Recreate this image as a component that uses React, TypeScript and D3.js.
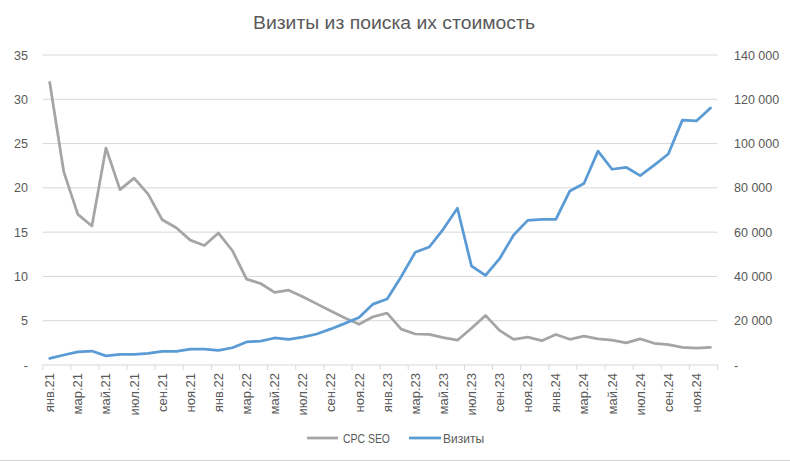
import React from "react";
import * as d3 from "d3";

const months = ["янв", "фев", "мар", "апр", "май", "июн", "июл", "авг", "сен", "окт", "ноя", "дек"];
const years = ["21", "22", "23", "24"];
const categories: string[] = years.flatMap((y) => months.map((m) => `${m}.${y}`));

const cpcSeo: number[] = [
  31.9, 21.8, 17.0, 15.7, 24.5, 19.8, 21.1, 19.3, 16.4, 15.5, 14.1, 13.5,
  14.9, 12.9, 9.7, 9.2, 8.2, 8.45, 7.7, 6.9, 6.1, 5.3, 4.6, 5.45,
  5.85, 4.05, 3.5, 3.45, 3.1, 2.8, 4.15, 5.6, 3.9, 2.9, 3.15, 2.75,
  3.45, 2.9, 3.25, 2.95, 2.8, 2.5, 2.95, 2.45, 2.3, 2.0, 1.9, 2.0,
];

const visits: number[] = [
  3000, 4500, 5900, 6300, 4100, 4800, 4800, 5300, 6200, 6200, 7200, 7200,
  6600, 7800, 10400, 10800, 12200, 11600, 12600, 14000, 16300, 18800, 21500, 27500,
  29800, 39900, 50900, 53300, 61400, 70800, 44700, 40500, 48000, 58700, 65300, 65800,
  65800, 78600, 82000, 96600, 88400, 89300, 85500, 90300, 95300, 110600, 110200, 116100,
];

const leftTicks = [0, 5, 10, 15, 20, 25, 30, 35];
const rightTicks = [0, 20000, 40000, 60000, 80000, 100000, 120000, 140000];

const title = "Визиты из поиска их стоимость";
const seriesNames = ["CPC SEO", "Визиты"];

const W = 790;
const H = 462;
const M = { left: 42.7, right: 717.5, top: 55, bottom: 365 };
const GREY = "#A5A5A5";
const BLUE = "#5B9BD5";
const TEXT = "#595959";
const GRID = "#D9D9D9";
const FONT = "'Liberation Sans', Arial, sans-serif";

const fmtRight = (v: number) => (v === 0 ? "-" : d3.format(",")(v).replace(/,/g, " "));
const fmtLeft = (v: number) => (v === 0 ? "-" : String(v));

export default function App() {
  const x = d3.scaleBand<string>().domain(categories).range([M.left, M.right]).padding(0);
  const yL = d3.scaleLinear().domain([0, 35]).range([M.bottom, M.top]);
  const yR = d3.scaleLinear().domain([0, 140000]).range([M.bottom, M.top]);
  const cx = (c: string) => (x(c) as number) + x.bandwidth() / 2;

  const lineL = d3
    .line<number>()
    .x((_, i) => cx(categories[i]))
    .y((d) => yL(d));
  const lineR = d3
    .line<number>()
    .x((_, i) => cx(categories[i]))
    .y((d) => yR(d));

  const tickCats = categories.filter((_, i) => i % 2 === 0);

  return (
    <svg
      width={W}
      height={H}
      style={{ position: "absolute", left: 0, top: 0, background: "#fff" }}
      fontFamily={FONT}
    >
      <rect x={0} y={0} width={W} height={H} fill="#fff" />
      <text x={253} y={29} fontSize={17.5} fill={TEXT} textLength={282} lengthAdjust="spacingAndGlyphs">
        {title}
      </text>

      {leftTicks.slice(1).map((t) => (
        <line key={t} x1={M.left} x2={M.right} y1={yL(t)} y2={yL(t)} stroke={GRID} strokeWidth={1} />
      ))}
      <line x1={M.left} x2={M.right} y1={M.bottom} y2={M.bottom} stroke={GRID} strokeWidth={1} />
      {d3.range(0, categories.length + 1, 2).map((i) => {
        const xx = M.left + i * x.bandwidth();
        return <line key={i} x1={xx} x2={xx} y1={M.bottom} y2={M.bottom + 5} stroke={GRID} strokeWidth={1} />;
      })}

      {leftTicks.map((t) => (
        <text key={t} x={28} y={yL(t) + 4.5} textAnchor="end" fontSize={12.5} fill={TEXT}>
          {fmtLeft(t)}
        </text>
      ))}
      {rightTicks.map((t) => (
        <text key={t} x={734} y={yR(t) + 4.5} textAnchor="start" fontSize={12.5} fill={TEXT}>
          {fmtRight(t)}
        </text>
      ))}

      {tickCats.map((c) => (
        <text
          key={c}
          transform={`translate(${cx(c) + 4.5},${M.bottom + 8}) rotate(-90)`}
          textAnchor="end"
          fontSize={13}
          fill={TEXT}
        >
          {c}
        </text>
      ))}

      <path d={lineL(cpcSeo) || ""} fill="none" stroke={GREY} strokeWidth={2.75} strokeLinejoin="round" strokeLinecap="round" />
      <path d={lineR(visits) || ""} fill="none" stroke={BLUE} strokeWidth={2.75} strokeLinejoin="round" strokeLinecap="round" />

      <line x1={307} x2={338} y1={438} y2={438} stroke={GREY} strokeWidth={2.75} />
      <text x={343} y={442.5} fontSize={12} fill={TEXT} textLength={47} lengthAdjust="spacingAndGlyphs">
        {seriesNames[0]}
      </text>
      <line x1={409} x2={441} y1={438} y2={438} stroke={BLUE} strokeWidth={2.75} />
      <text x={443} y={442.5} fontSize={12} fill={TEXT}>
        {seriesNames[1]}
      </text>

      <line x1={0} x2={W} y1={460.5} y2={460.5} stroke={GRID} strokeWidth={1} />
    </svg>
  );
}
